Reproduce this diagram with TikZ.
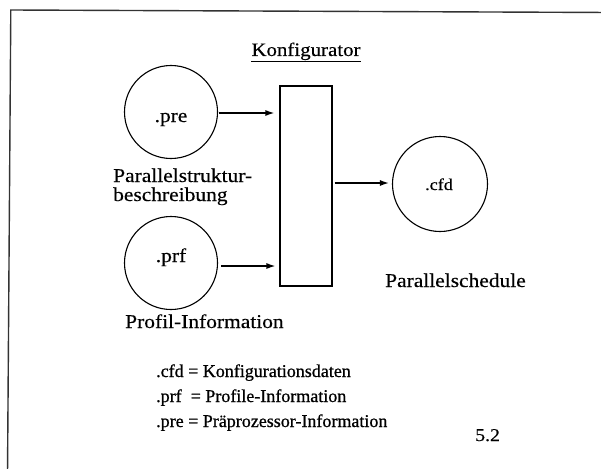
\documentclass[tikz,border=0pt]{standalone}
\usepackage{fontspec}
\setmainfont{Liberation Serif}[FakeStretch=1.1, FakeBold=0.4]
\newfontfamily\legendfont{Liberation Serif}[FakeBold=0.8]
\usetikzlibrary{arrows.meta}

\tikzset{
  datafile/.style={circle, draw, line width=1.1pt, minimum size=93pt, inner sep=0pt},
  prozess/.style={rectangle, draw, line width=1.1pt, minimum width=52pt, minimum height=200pt, inner sep=0pt},
  flow/.style={line width=1.4pt, -{Latex[length=9pt,width=6pt]}},
  label/.style={inner sep=0pt, font=\fontsize{19.5}{20}\selectfont},
  legend/.style={inner sep=0pt, anchor=base west, font=\legendfont\fontsize{18}{20}\selectfont},
}

\begin{document}
\begin{tikzpicture}[x=1pt, y=-1pt]
  \useasboundingbox (0,0) rectangle (601,468);

  % page frame (only top and left edges fall inside the sheet)
  \draw[line width=1.4pt, black!80] (7.5,475) -- (10.8,10) -- (610,12.5);

  % title
  \node[label, anchor=base, font=\fontsize{19}{20}\selectfont] (title) at (306,56)
    {\underline{Konfigurator}};

  % input files, configurator and output file
  \node[datafile] (pre) at (171,112) {};
  \node[datafile] (prf) at (171,263) {};
  \node[prozess]  (box) at (306,186) {};
  \node[datafile, minimum size=95pt] (cfd) at (440,184) {};

  \node[label, anchor=base] (preT) at (171,122) {.pre};
  \node[label, anchor=base] (prfT) at (171,262) {.prf};
  \node[label, anchor=base, font=\fontsize{16.5}{18}\selectfont] (cfdT) at (439,190) {.cfd};

  % connectors
  \draw[flow, shorten <=1pt, shorten >=5pt] ([yshift=-1pt]pre.east) -- ([yshift=-1pt]pre.east -| box.west);
  \draw[flow, shorten <=3pt, shorten >=4pt] ([yshift=-3pt]prf.east) -- ([yshift=-3pt]prf.east -| box.west);
  \draw[flow, shorten <=2pt, shorten >=3pt] ([yshift=1pt]cfd.west -| box.east) -- ([yshift=1pt]cfd.west);

  % descriptions
  \node[label, anchor=base west] (struk1) at (113,182) {Parallelstruktur-};
  \node[label, anchor=base west] (struk2) at (113,201) {beschreibung};
  \node[label, anchor=base west] (profil) at (125,328) {Profil-Information};
  \node[label, anchor=base west] (sched)  at (385,287) {Parallelschedule};

  % legend
  \node[legend] (leg1) at (156,377) {.cfd = Konfigurationsdaten};
  \node[legend] (leg2) at (156,402) {.prf\ \ = Profile-Information};
  \node[legend] (leg3) at (156,427) {.pre = Präprozessor-Information};

  % page number
  \node[label, anchor=base west, font=\fontsize{18}{20}\selectfont] (page) at (475,441) {5.2};
\end{tikzpicture}
\end{document}
